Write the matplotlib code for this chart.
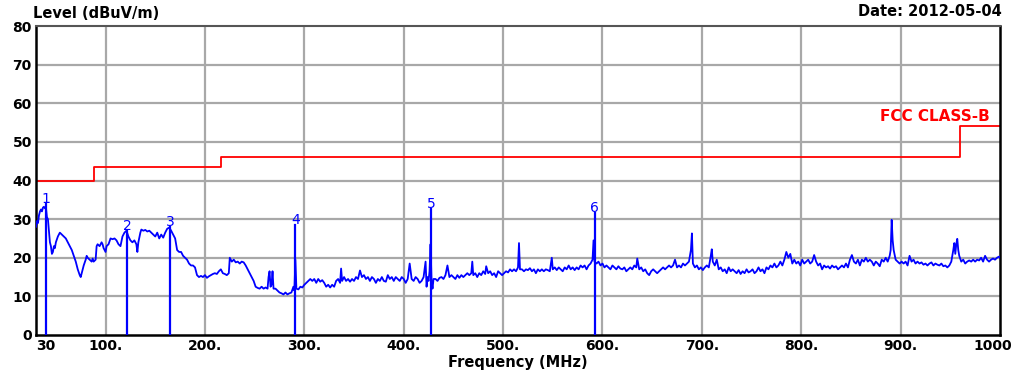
import matplotlib
matplotlib.use("Agg")
import matplotlib.pyplot as plt
import matplotlib.transforms as mtransforms

plt.rcParams["font.family"] = ["DejaVu Sans"]

# measured trace (MHz, dBuV/m)
freq = [
    30, 31, 32, 33, 34, 35, 36, 37, 38, 39, 40, 41, 42, 43, 44, 45, 46, 47, 48, 49,
    50, 52, 54, 56, 58, 60, 62, 64, 66, 68, 70, 72, 74, 75, 76, 78, 80, 81, 82, 84,
    86, 87, 88, 90, 91, 92, 94, 96, 97, 98, 99, 100, 101, 103, 105, 107, 109, 111, 113, 115,
    117, 119, 121, 123, 125, 127, 129, 131, 132, 133, 135, 136, 138, 140, 142, 144, 146, 148, 150, 152,
    154, 156, 158, 160, 162, 164, 166, 168, 170, 172, 174, 176, 178, 180, 182, 184, 186, 188, 190, 192,
    194, 196, 198, 200, 202, 204, 206, 208, 210, 212, 214, 216, 218, 220, 222, 224, 225, 227, 229, 231,
    233, 235, 237, 239, 241, 243, 245, 247, 249, 251, 253, 255, 257, 259, 261, 263, 264, 265, 266, 267,
    268, 269, 271, 273, 275, 277, 279, 281, 283, 285, 287, 289, 290, 291, 292, 294, 296, 298, 300, 302,
    304, 306, 308, 310, 312, 314, 316, 318, 320, 322, 324, 326, 328, 330, 332, 334, 336, 337, 338, 340,
    342, 344, 346, 348, 350, 352, 354, 356, 358, 360, 362, 364, 366, 368, 370, 372, 374, 376, 378, 380,
    382, 384, 386, 388, 390, 392, 394, 396, 398, 400, 402, 404, 406, 408, 410, 412, 414, 416, 418, 420,
    422, 423, 424, 425, 426, 427, 428, 429, 430, 432, 434, 436, 438, 440, 442, 444, 446, 448, 450, 452,
    454, 456, 458, 460, 462, 464, 466, 468, 469, 470, 472, 474, 476, 478, 480, 482, 483, 485, 487, 489,
    491, 493, 495, 497, 499, 501, 503, 505, 507, 509, 511, 513, 515, 516, 517, 519, 521, 523, 525, 527,
    529, 531, 533, 535, 537, 539, 541, 543, 545, 547, 549, 550, 552, 554, 556, 558, 560, 562, 564, 566,
    568, 570, 572, 574, 576, 578, 580, 582, 584, 586, 588, 590, 591, 592, 594, 596, 598, 600, 602, 604,
    606, 608, 610, 612, 614, 616, 618, 620, 622, 624, 626, 628, 630, 632, 634, 635, 637, 639, 641, 643,
    645, 647, 649, 651, 653, 655, 657, 659, 661, 663, 665, 667, 669, 671, 673, 675, 677, 679, 681, 683,
    685, 687, 689, 690, 691, 693, 695, 697, 699, 701, 703, 705, 707, 709, 710, 711, 713, 715, 717, 719,
    721, 723, 725, 727, 729, 731, 733, 735, 737, 739, 741, 743, 745, 747, 749, 751, 753, 755, 757, 759,
    761, 763, 765, 767, 769, 771, 773, 775, 777, 779, 781, 783, 785, 787, 789, 791, 793, 795, 797, 799,
    801, 803, 805, 807, 809, 811, 813, 815, 817, 819, 821, 823, 825, 827, 829, 831, 833, 835, 837, 839,
    841, 843, 845, 847, 849, 851, 853, 855, 857, 859, 861, 863, 865, 867, 869, 871, 873, 875, 877, 879,
    881, 883, 885, 887, 889, 890, 891, 892, 893, 895, 897, 899, 901, 903, 905, 907, 909, 911, 913, 915,
    917, 919, 921, 923, 925, 927, 929, 931, 933, 935, 937, 939, 941, 943, 945, 947, 949, 951, 953, 954,
    955, 956, 957, 958, 959, 961, 963, 965, 967, 969, 971, 973, 975, 977, 979, 981, 983, 985, 987, 989,
    991, 993, 995, 997, 999, 1000,
]
level = [
    28.0, 29.5, 29.0, 31.0, 32.0, 32.5, 32.0, 33.0, 33.2, 32.8, 33.0, 30.5, 30.0, 27.0, 24.0, 23.0, 21.0, 21.5, 23.0, 22.5,
    24.0, 25.5, 26.5, 26.0, 25.5, 25.0, 24.0, 23.0, 22.0, 20.5, 19.0, 17.0, 15.5, 15.0, 16.0, 18.0, 19.5, 20.5, 20.0, 19.5,
    19.0, 19.8, 19.0, 19.5, 23.0, 23.5, 23.0, 24.0, 23.5, 22.5, 22.0, 21.5, 23.0, 23.5, 25.0, 24.8, 25.0, 24.5, 23.5, 23.0,
    25.5, 26.5, 27.0, 25.5, 24.5, 24.0, 24.5, 23.5, 21.5, 24.0, 26.5, 27.3, 27.0, 27.2, 26.8, 27.0, 26.5, 26.0, 25.5, 26.5,
    25.0, 26.0, 25.2, 26.5, 27.5, 27.8, 27.0, 26.0, 25.0, 22.0, 21.5, 21.5, 20.5, 20.0, 19.5, 18.5, 18.0, 18.0, 17.5, 15.5,
    15.0, 15.3, 15.0, 15.5, 14.8, 15.2, 15.5, 15.8, 16.0, 15.8, 16.5, 17.0, 16.0, 15.8, 15.5, 16.0, 20.0, 19.0, 19.5, 18.8,
    19.0, 18.5, 19.0, 18.8, 18.0, 17.0, 16.0, 15.0, 14.0, 12.5, 12.2, 12.0, 12.5, 12.0, 12.3, 12.0, 15.0, 16.5, 12.5, 13.0,
    16.5, 12.0, 12.0, 11.5, 11.0, 10.8, 10.5, 11.0, 10.5, 10.8, 11.0, 12.5, 11.5, 19.5, 12.0, 11.8, 12.5, 12.3, 13.0, 13.5,
    14.0, 14.5, 14.0, 14.5, 13.5, 14.5, 13.8, 14.2, 13.5, 12.5, 13.0, 12.3, 13.0, 12.5, 14.0, 14.5, 13.5, 17.2, 14.0, 15.0,
    14.0, 14.5, 13.8, 14.5, 14.0, 15.0, 14.5, 16.7, 15.0, 15.5, 14.5, 15.0, 14.0, 15.0, 14.5, 13.5, 14.5, 14.0, 15.0, 14.0,
    13.8, 15.5, 14.5, 15.0, 14.0, 15.0, 14.5, 14.0, 15.0, 14.5, 13.5, 14.5, 18.5, 14.5, 14.0, 15.0, 14.5, 13.5, 14.0, 15.0,
    19.0, 12.5, 15.0, 14.0, 16.5, 23.5, 14.0, 12.0, 14.5, 14.5, 14.0, 14.8, 15.0, 14.5, 15.5, 18.0, 15.0, 15.5, 15.0, 14.5,
    15.5, 14.8, 15.5, 15.0, 15.5, 16.0, 15.5, 16.0, 19.0, 15.5, 16.0, 15.0, 16.0, 15.5, 16.5, 15.8, 17.8, 16.0, 16.5, 15.5,
    16.0, 15.0, 16.5, 16.0, 15.5, 16.0, 16.5, 16.2, 17.0, 16.5, 17.0, 16.5, 17.5, 23.8, 17.0, 17.0, 16.5, 17.0, 16.8, 17.3,
    16.5, 17.0, 16.0, 17.0, 16.5, 17.0, 16.5, 17.0, 16.8, 16.5, 20.0, 17.0, 17.5, 16.8, 17.5, 17.0, 16.5, 17.5, 17.0, 18.0,
    17.0, 17.5, 16.8, 17.5, 17.0, 18.0, 17.5, 18.0, 17.0, 18.0, 18.5, 19.5, 24.5, 19.0, 18.5, 19.0, 18.0, 18.5, 17.5, 18.0,
    17.5, 17.0, 18.0, 17.5, 17.0, 17.8, 17.2, 17.0, 17.5, 16.5, 17.0, 17.5, 17.0, 18.0, 17.5, 19.8, 17.0, 17.5, 16.5, 17.0,
    16.0, 15.5, 16.5, 17.0, 16.5, 16.0, 16.5, 17.0, 17.5, 17.0, 17.5, 18.0, 17.5, 18.0, 19.5, 17.5, 18.0, 17.5, 18.5, 18.0,
    18.5, 19.0, 22.0, 26.3, 18.5, 17.5, 18.0, 17.0, 17.5, 16.8, 17.5, 18.0, 17.5, 20.5, 22.2, 19.0, 18.0, 19.5, 17.0, 17.5,
    16.5, 17.0, 16.0, 17.5, 16.5, 17.0, 16.5, 16.0, 16.8, 15.8, 16.5, 16.0, 17.0, 16.2, 16.5, 17.0, 16.0, 16.5, 17.5, 16.5,
    17.0, 16.0, 17.5, 17.0, 18.0, 17.5, 18.5, 17.5, 18.0, 19.0, 18.0, 19.5, 21.5, 20.0, 21.0, 18.5, 19.5, 18.5, 19.0, 18.0,
    19.5, 18.5, 19.0, 19.5, 18.5, 19.0, 20.7, 19.0, 18.0, 18.5, 17.0, 18.0, 17.5, 17.8, 17.2, 18.0, 17.5, 17.8, 17.0, 17.5,
    18.0, 17.5, 18.5, 17.5, 19.5, 20.7, 19.0, 18.5, 19.5, 18.0, 19.5, 19.0, 20.0, 19.0, 19.5, 19.0, 18.0, 19.0, 18.5, 17.8,
    19.5, 19.0, 20.0, 19.0, 20.5, 22.0, 29.8, 24.5, 22.0, 19.5, 19.0, 18.5, 19.0, 18.5, 19.0, 18.0, 20.5, 19.0, 19.5, 18.5,
    19.0, 18.5, 18.8, 18.2, 18.5, 18.0, 18.5, 18.8, 18.0, 18.5, 18.2, 18.0, 18.5, 17.8, 18.0, 17.5, 18.0, 19.0, 22.0, 23.8,
    21.0, 23.5, 24.9, 22.0, 20.5, 19.0, 19.5, 18.5, 19.0, 19.3, 19.0, 19.5, 19.0, 19.5, 19.3, 20.0, 19.0, 20.5, 19.5, 19.0,
    19.5, 19.8, 19.5, 20.0, 20.3, 20.0,
]

# FCC class B limit (step edges)
limit_freq = [30, 88, 88, 216, 216, 960, 960, 1000]
limit_level = [40, 40, 43.5, 43.5, 46, 46, 54, 54]

# markers
marker_freq = [40, 121.5, 164.8, 290.9, 427.4, 592.4]
marker_level = [34.0, 27.0, 28.0, 28.5, 32.5, 31.5]
marker_label = ["1", "2", "3", "4", "5", "6"]

x_ticks = [30, 100, 200, 300, 400, 500, 600, 700, 800, 900, 1000]
x_tick_labels = ["30", "100.", "200.", "300.", "400.", "500.", "600.", "700.", "800.", "900.", "1000"]
y_ticks = [0, 10, 20, 30, 40, 50, 60, 70, 80]

fig = plt.figure(figsize=(10.18, 3.74), dpi=100)
ax = fig.add_axes([36 / 1018, 1 - 335 / 374, 964 / 1018, 309 / 374])
ax.set_xlim(30, 1000)
ax.set_ylim(0, 80)

# grid
for xv in x_ticks[1:-1]:
    ax.axvline(xv, color="#a8a8a8", linewidth=1.6, zorder=0)
for yv in y_ticks[1:-1]:
    ax.axhline(yv, color="#a8a8a8", linewidth=1.6, zorder=0)

ax.step(limit_freq, limit_level, where="post", color="#ff0000", linewidth=1.3, zorder=2)
ax.plot(freq, level, color="#0000ff", linewidth=1.3, zorder=3)

for f, lv, lab in zip(marker_freq, marker_level, marker_label):
    ax.plot([f, f], [0, lv], color="#0000ff", linewidth=1.6, zorder=3)
    ax.text(f, lv - 0.5, lab, color="#0000ff", fontsize=10, ha="center", va="bottom", zorder=4)

ax.text(990, 56.6, "FCC CLASS-B", color="#ff0000", fontsize=11, weight="bold",
        ha="right", va="center")

ax.set_xticks(x_ticks)
ax.set_xticklabels(x_tick_labels, fontsize=10, weight="bold")
ax.set_yticks(y_ticks)
ax.set_yticklabels([str(v) for v in y_ticks], fontsize=10, weight="bold")
ax.tick_params(length=0, pad=3)
xlabels = ax.get_xticklabels()
xlabels[0].set_ha("left")
xlabels[-1].set_transform(xlabels[-1].get_transform()
                          + mtransforms.ScaledTranslation(-7.5 / 100, 0, fig.dpi_scale_trans))

for side in ["left", "bottom", "right"]:
    ax.spines[side].set_color("#000000")
    ax.spines[side].set_linewidth(1.8)
ax.spines["top"].set_color("#555555")
ax.spines["top"].set_linewidth(1.5)

fig.text(33 / 1018, 1 - 14 / 374, "Level (dBuV/m)", fontsize=10.5, weight="bold",
         ha="left", va="center")
fig.text(1002 / 1018, 1 - 12 / 374, "Date: 2012-05-04", fontsize=10.5, weight="bold",
         ha="right", va="center")
fig.text(518 / 1018, 1 - 363 / 374, "Frequency (MHz)", fontsize=10.5, weight="bold",
         ha="center", va="center")

fig.savefig("out.png", dpi=100)
